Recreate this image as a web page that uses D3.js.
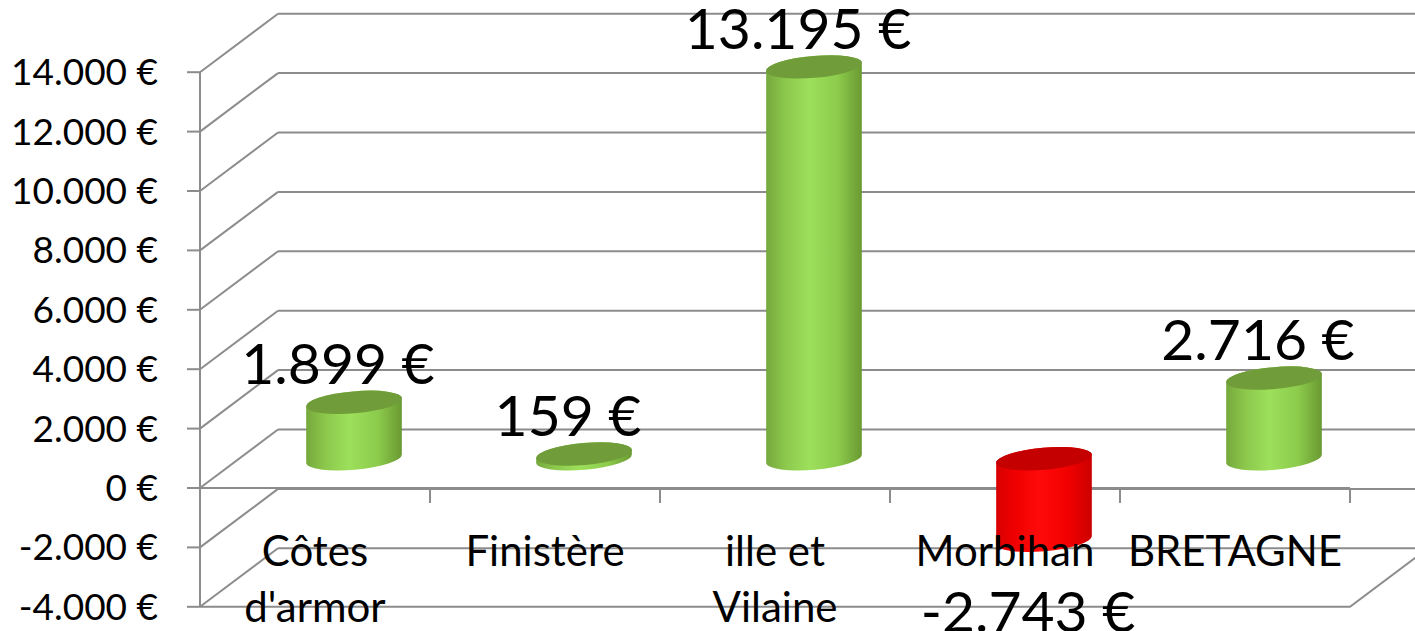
<!DOCTYPE html>
<html>
<head>
<meta charset="utf-8">
<script src="https://cdn.jsdelivr.net/npm/d3@7"></script>
<style>
  body { margin: 0; background: #fff; }
  svg { display: block; font-family: Lato, "Open Sans", sans-serif; }
</style>
</head>
<body>
<div class="chart-box"></div>
<script>
// chart data
const categories = ["Côtes d'armor", "Finistère", "ille et Vilaine", "Morbihan", "BRETAGNE"];
const categoryLines = [["Côtes", "d'armor"], ["Finistère"], ["ille et", "Vilaine"], ["Morbihan"], ["BRETAGNE"]];
const values = [1899, 159, 13195, -2743, 2716];
const yTicks = [-4000, -2000, 0, 2000, 4000, 6000, 8000, 10000, 12000, 14000];

const width = 1415, height = 631;
const depthX = 78, depthY = 58.5;   // offset of the back wall
const tilt = -5;                    // ellipse rotation

const fr = d3.formatLocale({decimal: ",", thousands: ".", grouping: [3], currency: ["", " €"], minus: "-"});
const euro = fr.format("$,.0f");

const svg = d3.select(".chart-box")
  .append("svg")
  .attr("width", width)
  .attr("height", height);

const y = d3.scaleLinear().domain([-4000, 14000]).range([606.8, 72.2]);
const x = d3.scaleBand().domain(categories).range([200, 1350]);

const defs = svg.append("defs");
function addGradient(id, stops) {
  const g = defs.append("linearGradient").attr("id", id)
    .attr("x1", "0%").attr("x2", "100%").attr("y1", "0%").attr("y2", "0%");
  stops.forEach(s => g.append("stop").attr("offset", s[0]).attr("stop-color", s[1]));
}
addGradient("green", [["0%", "#76a83c"], ["20%", "#8cc84c"], ["45%", "#9de05b"], ["75%", "#8ccb4c"], ["100%", "#6a9a32"]]);
addGradient("red", [["0%", "#d80000"], ["20%", "#f00000"], ["45%", "#ff0a0a"], ["75%", "#f20000"], ["100%", "#cc0000"]]);

const grid = svg.append("g")
  .attr("stroke", "#8c8c8c")
  .attr("stroke-width", 2)
  .attr("fill", "none");

// back wall gridlines
grid.selectAll(".back")
  .data(yTicks)
  .enter().append("line")
  .attr("x1", x.range()[0] + depthX)
  .attr("x2", x.range()[1] + depthX)
  .attr("y1", d => y(d) - depthY)
  .attr("y2", d => y(d) - depthY);

// side wall diagonals
grid.selectAll(".side")
  .data(yTicks)
  .enter().append("line")
  .attr("x1", x.range()[0])
  .attr("x2", x.range()[0] + depthX)
  .attr("y1", d => y(d))
  .attr("y2", d => y(d) - depthY);

// floor front edge and right edge
grid.append("path")
  .attr("d", "M" + x.range()[0] + "," + y(-4000) + "H" + x.range()[1] +
    "l" + depthX + "," + (-depthY));

// value axis
grid.append("line")
  .attr("x1", x.range()[0]).attr("x2", x.range()[0])
  .attr("y1", y(14000)).attr("y2", y(-4000));
grid.selectAll(".ytick")
  .data(yTicks)
  .enter().append("line")
  .attr("x1", x.range()[0] - 13).attr("x2", x.range()[0])
  .attr("y1", d => y(d)).attr("y2", d => y(d));

// category axis at zero
grid.append("line")
  .attr("x1", x.range()[0]).attr("x2", x.range()[1])
  .attr("y1", y(0)).attr("y2", y(0));
grid.selectAll(".xtick")
  .data(categories)
  .enter().append("line")
  .attr("x1", d => x(d) + x.bandwidth()).attr("x2", d => x(d) + x.bandwidth())
  .attr("y1", y(0)).attr("y2", y(0) + 15);

svg.append("g")
  .selectAll("text")
  .data(yTicks)
  .enter().append("text")
  .attr("x", 158)
  .attr("y", d => y(d) + 13)
  .attr("text-anchor", "end")
  .attr("font-size", 37)
  .attr("fill", "#000")
  .text(d => euro(d));

// cylinders
const rx = 48, ry = 11;
const rad = tilt * Math.PI / 180;
const ex = rx * Math.cos(rad), ey = rx * Math.sin(rad);

const bars = svg.append("g")
  .selectAll("g")
  .data(values.map((v, i) => ({name: categories[i], value: v})))
  .enter().append("g");

function cx(d) { return x(d.name) + x.bandwidth() / 2 + depthX / 2; }
function topY(d) { return y(Math.max(0, d.value)) - depthY / 2; }
function botY(d) { return y(Math.min(0, d.value)) - depthY / 2; }

bars.append("path")
  .attr("fill", d => d.value < 0 ? "url(#red)" : "url(#green)")
  .attr("d", d => {
    const c = cx(d), t = topY(d), b = botY(d);
    return "M" + (c - ex) + "," + (t - ey) +
      "L" + (c - ex) + "," + (b - ey) +
      "A" + rx + "," + ry + " " + tilt + " 0 0 " + (c + ex) + "," + (b + ey) +
      "L" + (c + ex) + "," + (t + ey) +
      "A" + rx + "," + ry + " " + tilt + " 0 0 " + (c - ex) + "," + (t - ey) + "Z";
  });

bars.append("ellipse")
  .attr("cx", d => cx(d))
  .attr("cy", d => topY(d))
  .attr("rx", rx)
  .attr("ry", ry)
  .attr("transform", d => "rotate(" + tilt + "," + cx(d) + "," + topY(d) + ")")
  .attr("fill", d => d.value < 0 ? "#c40000" : "#709c3a");

// category labels
svg.append("g")
  .selectAll("text")
  .data(categories)
  .enter().append("text")
  .attr("x", d => x(d) + x.bandwidth() / 2)
  .attr("y", 566)
  .attr("text-anchor", "middle")
  .attr("font-size", 42)
  .attr("fill", "#000")
  .each(function(d, i) {
    d3.select(this).selectAll("tspan")
      .data(categoryLines[i])
      .enter().append("tspan")
      .attr("x", x(d) + x.bandwidth() / 2)
      .attr("dy", (t, j) => j === 0 ? 0 : 56)
      .text(t => t);
  });

// value labels
bars.append("text")
  .attr("x", d => cx(d) - 16)
  .attr("y", d => d.value < 0 ? botY(d) + 92 : topY(d) - 18)
  .attr("text-anchor", "middle")
  .attr("font-size", 57)
  .attr("fill", "#000")
  .text(d => euro(d.value));
</script>
</body>
</html>
